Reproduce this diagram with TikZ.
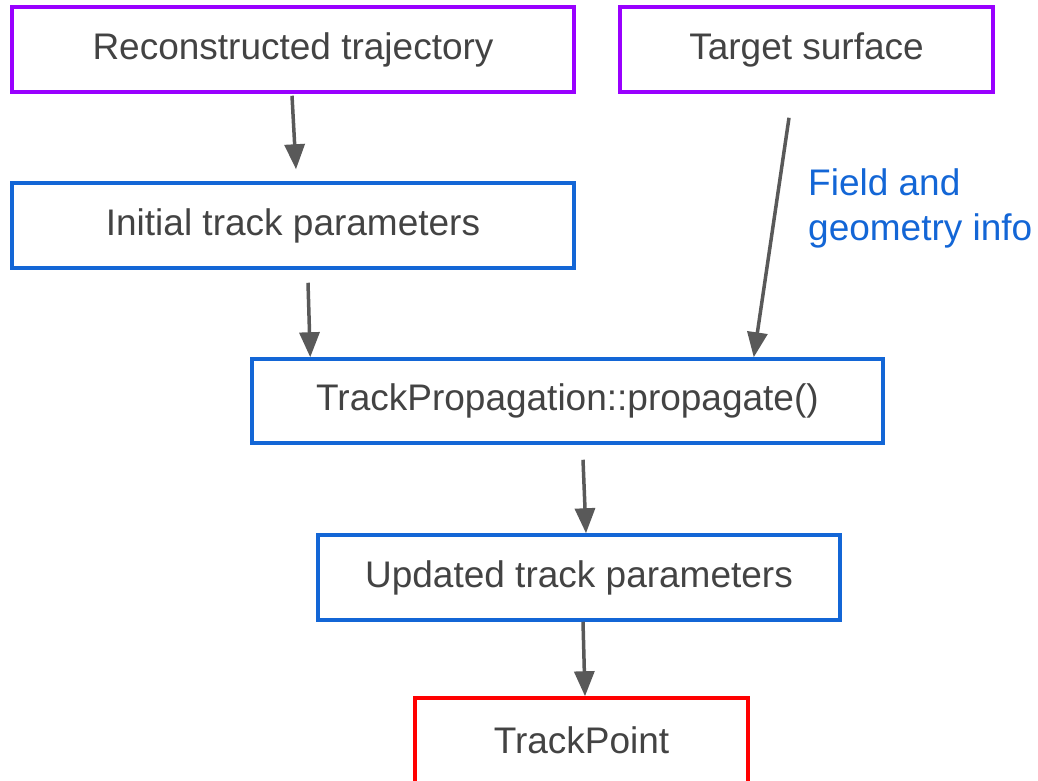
\documentclass[tikz,border=0pt]{standalone}
\usepackage{fontspec}
\setmainfont{Liberation Sans}
\usetikzlibrary{arrows.meta,calc}
\definecolor{cpurple}{HTML}{9900FF}
\definecolor{cblue}{HTML}{1366D6}
\definecolor{cred}{HTML}{FF0000}
\definecolor{ctext}{HTML}{434343}
\definecolor{carrow}{HTML}{595959}
\tikzset{
  box/.style={draw, line width=3.5pt, inner sep=0pt, minimum height=85pt,
    text=ctext, font=\fontsize{37}{44}\selectfont},
  pbox/.style={box, draw=cpurple},
  bbox/.style={box, draw=cblue},
  rbox/.style={box, draw=cred},
  arr/.style={draw=carrow, line width=3.5pt, -{Triangle[length=25pt,width=20pt]}},
}
\begin{document}
\begin{tikzpicture}[x=1pt,y=-1pt]
\useasboundingbox (0,0) rectangle (1038,780);
\begin{scope}
\clip (0,0) rectangle (1038,780);
\node[pbox, minimum width=562pt] (rt) at (293,49.5) {Reconstructed trajectory};
\node[pbox, minimum width=373pt] (ts) at (806.5,49.5) {Target surface};
\node[bbox, minimum width=562pt] (itp) at (293,225.5) {Initial track parameters};
\node[bbox, minimum width=631pt, minimum height=84pt] (tp) at (567.5,401) {TrackPropagation::propagate()};
\node[bbox, minimum width=522pt] (utp) at (579,577.5) {Updated track parameters};
\node[rbox, minimum width=333pt] (tpt) at (581.5,740.5) {TrackPoint};
\node[anchor=base west, align=left, inner sep=0pt, text=cblue,
  font=\fontsize{37}{45}\selectfont] (lbl) at (808,240) {Field and\\geometry info};

\draw[arr] ([xshift=-1pt,yshift=-2pt]rt.south) -- ([xshift=3pt,yshift=12pt]itp.north);
\draw[arr] ([xshift=15pt,yshift=-13pt]itp.south) -- ([xshift=60pt]tp.north west);
\draw[arr] ([xshift=-17.5pt,yshift=-24pt]ts.south) -- ([xshift=-131pt]tp.north east);
\draw[arr] ([xshift=15.5pt,yshift=-15pt]tp.south) -- ([xshift=7pt]utp.north);
\draw[arr] ([xshift=4pt]utp.south) -- ([xshift=3.5pt]tpt.north);
\end{scope}
\end{tikzpicture}
\end{document}
